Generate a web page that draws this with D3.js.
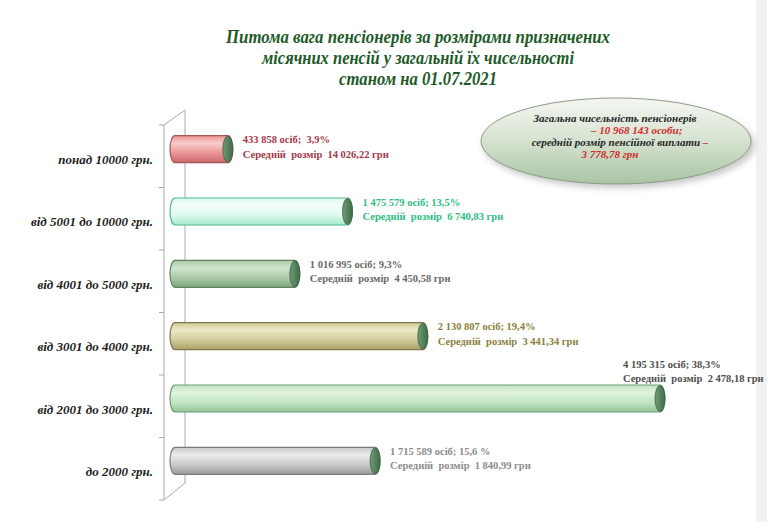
<!DOCTYPE html>
<html>
<head>
<meta charset="utf-8">
<script src="https://cdn.jsdelivr.net/npm/d3@7"></script>
<style>
  body { margin: 0; background: #fff; }
  svg { display: block; }
  text { white-space: pre; }
</style>
</head>
<body>
<div class="canvas"></div>
<script>
// Data
const categories = ['понад 10000 грн.', 'від 5001 до 10000 грн.', 'від 4001 до 5000 грн.', 'від 3001 до 4000 грн.', 'від 2001 до 3000 грн.', 'до 2000 грн.']
const persons = [433858, 1475579, 1016995, 2130807, 4195315, 1715589]
const countLabels = ['433 858 осіб;  3,9%', '1 475 579 осіб; 13,5%', '1 016 995 осіб; 9,3%', '2 130 807 осіб; 19,4%', '4 195 315 осіб; 38,3%', '1 715 589 осіб; 15,6 %']
const avgLabels = ['Середній  розмір  14 026,22 грн', 'Середній  розмір  6 740,83 грн', 'Середній  розмір  4 450,58 грн', 'Середній  розмір  3 441,34 грн', 'Середній  розмір  2 478,18 грн', 'Середній  розмір  1 840,99 грн']
const titleLines = ['Питома вага пенсіонерів за розмірами призначених', 'місячних пенсій у загальній їх чисельності', 'станом на 01.07.2021']
const totalText = ['Загальна чисельність пенсіонерів', '– 10 968 143 особи;', 'середній розмір пенсійної виплати ', '–', '3 778,78 грн']

// Bar palettes: [dark, light, mid, stroke, label]
const palette = [
  ['#c9696c', '#f8cccc', '#eb9395', '#a3565a', '#a53848'],
  ['#a6e8cc', '#f6fffb', '#dbf9ec', '#4cb98a', '#2fbd83'],
  ['#7ea57e', '#d2e6cf', '#a8c8a5', '#5d835f', '#6a6a6a'],
  ['#a8a069', '#eceac8', '#d0cb99', '#7d7846', '#8b7f3c'],
  ['#96c79a', '#e0f4e0', '#c2e3c2', '#6c9a70', '#4e4e4e'],
  ['#9b9b9b', '#ececec', '#c9c9c9', '#7b7b7b', '#8c8c8c']
]

const width = 767
const height = 522
const serif = '"Liberation Serif", "Times New Roman", serif'

const svg = d3.select('.canvas')
  .append('svg')
  .attr('width', width)
  .attr('height', height)

const defs = svg.append('defs')

// faint grey strip at the right edge
svg.append('rect')
  .attr('x', 756).attr('y', 0)
  .attr('width', 11).attr('height', height)
  .attr('fill', '#f2f2f2')

// Title
svg.append('g')
  .selectAll('text')
  .data(titleLines)
  .enter()
  .append('text')
  .attr('x', 418)
  .attr('y', (d, i) => 43 + i * 21)
  .attr('text-anchor', 'middle')
  .attr('textLength', (d, i) => [384, 312, 158][i])
  .attr('lengthAdjust', 'spacingAndGlyphs')
  .attr('font-family', serif)
  .attr('font-size', 18)
  .attr('font-weight', 'bold')
  .attr('font-style', 'italic')
  .attr('fill', '#215a28')
  .text(d => d)

// Scales: front plane for category labels, middle plane for bars
const yFront = d3.scaleBand()
  .domain(categories)
  .range([125, 500])

const yBar = d3.scaleBand()
  .domain(categories)
  .range([118, 492])

const x = d3.scaleLinear()
  .domain([0, d3.max(persons)])
  .range([178, 660])

// 3D wall / axis
const axis = svg.append('g')
  .attr('stroke', '#a9a9a9')
  .attr('fill', 'none')
  .attr('stroke-width', 1)

const fx = 164
const bx = 185
axis.append('path')
  .attr('d', `M${fx},${yFront.range()[0]} L${bx},110 L${bx},483 L${fx},${yFront.range()[1]} Z`)

const tickYs = categories.map(c => yFront(c)).concat([yFront.range()[1]])
axis.selectAll('line')
  .data(tickYs)
  .enter()
  .append('line')
  .attr('x1', fx - 5)
  .attr('x2', fx)
  .attr('y1', d => d)
  .attr('y2', d => d)

// Category labels
svg.append('g')
  .selectAll('text')
  .data(categories)
  .enter()
  .append('text')
  .attr('x', 153)
  .attr('y', d => yFront(d) + yFront.bandwidth() / 2)
  .attr('dy', '0.58em')
  .attr('text-anchor', 'end')
  .attr('font-family', serif)
  .attr('font-size', 13)
  .attr('font-weight', 'bold')
  .attr('font-style', 'italic')
  .attr('fill', '#1e1e1e')
  .text(d => d)

// Gradients for cylinders
palette.forEach((p, i) => {
  const g = defs.append('linearGradient')
    .attr('id', 'bar' + i)
    .attr('x1', 0).attr('y1', 0)
    .attr('x2', 0).attr('y2', 1)
  g.append('stop').attr('offset', '0%').attr('stop-color', p[2])
  g.append('stop').attr('offset', '28%').attr('stop-color', p[1])
  g.append('stop').attr('offset', '65%').attr('stop-color', p[2])
  g.append('stop').attr('offset', '100%').attr('stop-color', p[0])
})

const capGrad = defs.append('linearGradient')
  .attr('id', 'cap')
  .attr('x1', 0).attr('y1', 0)
  .attr('x2', 1).attr('y2', 0)
capGrad.append('stop').attr('offset', '0%').attr('stop-color', '#6f9d76')
capGrad.append('stop').attr('offset', '100%').attr('stop-color', '#3f6b47')

// Cylinders
const barH = 27
const r = barH / 2
const rx = 5
const xLeft = 170

const bars = svg.append('g')
  .selectAll('g')
  .data(categories)
  .enter()
  .append('g')

bars.append('path')
  .attr('d', (d, i) => {
    const cy = yBar(d) + yBar.bandwidth() / 2
    const xr = x(persons[i])
    const top = cy - r
    const bot = cy + r
    return `M${xLeft + rx},${top} L${xr},${top} A${rx},${r} 0 0 1 ${xr},${bot} ` +
      `L${xLeft + rx},${bot} A${rx},${r} 0 0 1 ${xLeft + rx},${top} Z`
  })
  .attr('fill', (d, i) => `url(#bar${i})`)
  .attr('stroke', (d, i) => palette[i][3])
  .attr('stroke-width', 1.2)

bars.append('ellipse')
  .attr('cx', (d, i) => x(persons[i]))
  .attr('cy', d => yBar(d) + yBar.bandwidth() / 2)
  .attr('rx', rx)
  .attr('ry', r - 0.5)
  .attr('fill', 'url(#cap)')
  .attr('stroke', '#3a5f41')
  .attr('stroke-width', 0.8)

// Value labels
const maxVal = d3.max(persons)
const labels = svg.append('g')
  .attr('font-family', serif)
  .attr('font-size', 10.5)
  .attr('font-weight', 'bold')

categories.forEach((c, i) => {
  const cy = yBar(c) + yBar.bandwidth() / 2
  const big = persons[i] === maxVal
  const lx = big ? 623 : x(persons[i]) + 15
  const ly = big ? cy - 31 : cy - 6
  const t = labels.append('text')
    .attr('fill', palette[i][4])
  t.append('tspan').attr('x', lx).attr('y', ly).text(countLabels[i])
  t.append('tspan').attr('x', lx).attr('y', ly + 14.5).text(avgLabels[i])
})

// Total ellipse
const eg = defs.append('linearGradient')
  .attr('id', 'oval')
  .attr('x1', 0).attr('y1', 0)
  .attr('x2', 0).attr('y2', 1)
eg.append('stop').attr('offset', '0%').attr('stop-color', '#f4f6f1')
eg.append('stop').attr('offset', '45%').attr('stop-color', '#d9e5d4')
eg.append('stop').attr('offset', '100%').attr('stop-color', '#a9c4a2')

const blur = defs.append('filter')
  .attr('id', 'shadow')
  .attr('x', '-20%').attr('y', '-20%')
  .attr('width', '140%').attr('height', '150%')
blur.append('feGaussianBlur').attr('stdDeviation', 3)

svg.append('ellipse')
  .attr('cx', 619).attr('cy', 145)
  .attr('rx', 136).attr('ry', 43)
  .attr('fill', '#c8c8c8')
  .attr('filter', 'url(#shadow)')

svg.append('ellipse')
  .attr('cx', 616).attr('cy', 141)
  .attr('rx', 135).attr('ry', 43)
  .attr('fill', 'url(#oval)')
  .attr('stroke', '#8e9c8b')
  .attr('stroke-width', 1)

const ot = svg.append('g')
  .attr('font-family', serif)
  .attr('font-size', 11)
  .attr('font-weight', 'bold')
  .attr('font-style', 'italic')

ot.append('text')
  .attr('x', 615).attr('y', 122)
  .attr('text-anchor', 'middle')
  .attr('fill', '#262626')
  .text(totalText[0])

ot.append('text')
  .attr('x', 591).attr('y', 134)
  .attr('fill', '#d22b2b')
  .text(totalText[1])

const l3 = ot.append('text')
  .attr('x', 620).attr('y', 146)
  .attr('text-anchor', 'middle')
l3.append('tspan').attr('fill', '#262626').text(totalText[2])
l3.append('tspan').attr('fill', '#d22b2b').text(totalText[3])

ot.append('text')
  .attr('x', 610).attr('y', 158)
  .attr('text-anchor', 'middle')
  .attr('fill', '#d22b2b')
  .text(totalText[4])
</script>
</body>
</html>
